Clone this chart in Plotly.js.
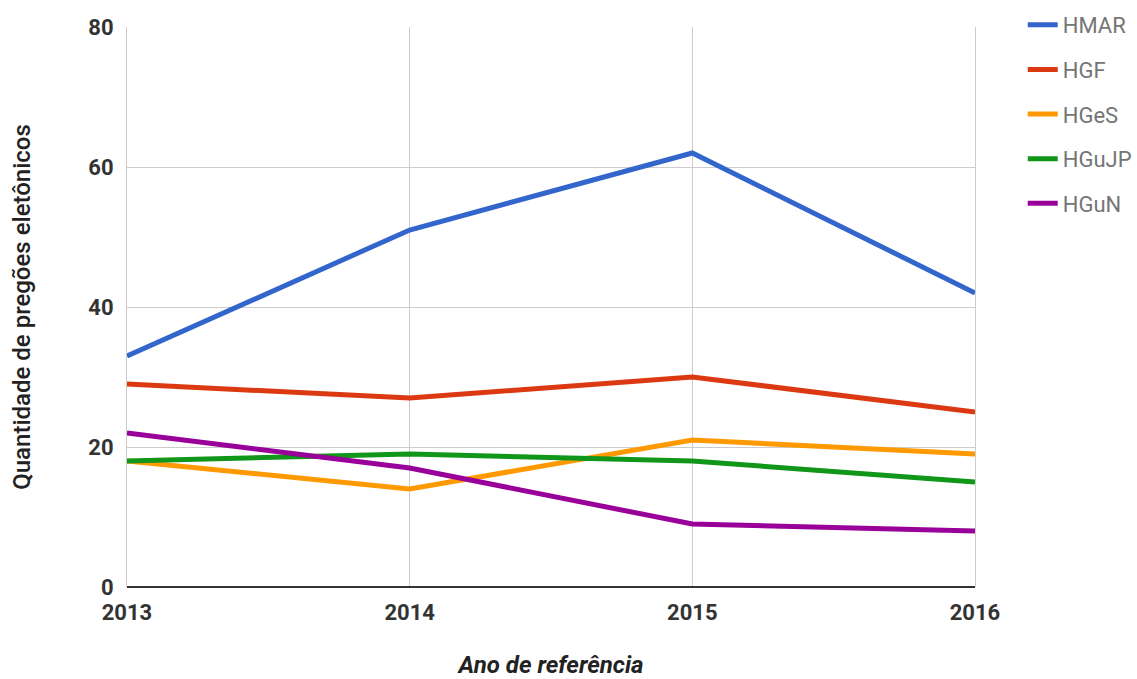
<!DOCTYPE html>
<html>
<head>
<meta charset="utf-8">
<script src="https://cdn.plot.ly/plotly-3.0.1.min.js"></script>
<style>html,body{margin:0;padding:0;background:#fff;}#chart{width:1137px;height:679px;}</style>
</head>
<body>
<div id="chart"></div>
<script>
var years = [2013, 2014, 2015, 2016];
var seriesNames = ["HMAR", "HGF", "HGeS", "HGuJP", "HGuN"];
var HMAR = [33, 51, 62, 42];
var HGF = [29, 27, 30, 25];
var HGeS = [18, 14, 21, 19];
var HGuJP = [18, 19, 18, 15];
var HGuN = [22, 17, 9, 8];
var seriesValues = [HMAR, HGF, HGeS, HGuJP, HGuN];
var colors = ["#3366cc", "#dc3912", "#ff9900", "#109618", "#990099"];
var yTicks = [0, 20, 40, 60, 80];

var traces = seriesNames.map(function (n, i) {
  return {
    x: years, y: seriesValues[i], name: n, type: "scatter", mode: "lines",
    line: {color: colors[i], width: 5},
    legendgroup: n, hoverinfo: "skip"
  };
});

var layout = {
  width: 1137, height: 679,
  margin: {l: 127, r: 162, t: 27, b: 92, autoexpand: false},
  paper_bgcolor: "#fff", plot_bgcolor: "#fff",
  font: {family: "Roboto, sans-serif", color: "#333"},
  showlegend: true,
  legend: {
    xref: "container", yref: "container",
    x: 0.8995, xanchor: "left", y: 0.994, yanchor: "top",
    font: {size: 22, color: "#757575"}, tracegroupgap: 13, itemwidth: 30
  },
  xaxis: {
    range: [2013, 2016], tickvals: years, ticktext: years.map(String),
    showgrid: true, gridcolor: "#cccccc", gridwidth: 1, zeroline: false,
    showline: false, ticks: "outside", ticklen: 6, tickcolor: "rgba(0,0,0,0)",
    tickfont: {size: 22, color: "#333", family: "Roboto, sans-serif", weight: "bold"},
    title: {text: "<i>Ano de referência</i>", font: {size: 24, color: "#222", weight: "bold"}, standoff: 40}
  },
  yaxis: {
    range: [0, 80], tickvals: yTicks,
    showgrid: true, gridcolor: "#cccccc", gridwidth: 1,
    showline: true, mirror: true, linecolor: "#cccccc", linewidth: 1,
    zeroline: true, zerolinecolor: "#333", zerolinewidth: 1.5,
    ticks: "outside", ticklen: 8, tickcolor: "rgba(0,0,0,0)",
    tickfont: {size: 22, color: "#333", family: "Roboto, sans-serif", weight: "bold"},
    title: {text: "Quantidade de pregões eletônicos", font: {size: 24, color: "#222", weight: 500}, standoff: 50}
  }
};

Plotly.newPlot("chart", traces, layout, {displayModeBar: false, staticPlot: true});
</script>
</body>
</html>
